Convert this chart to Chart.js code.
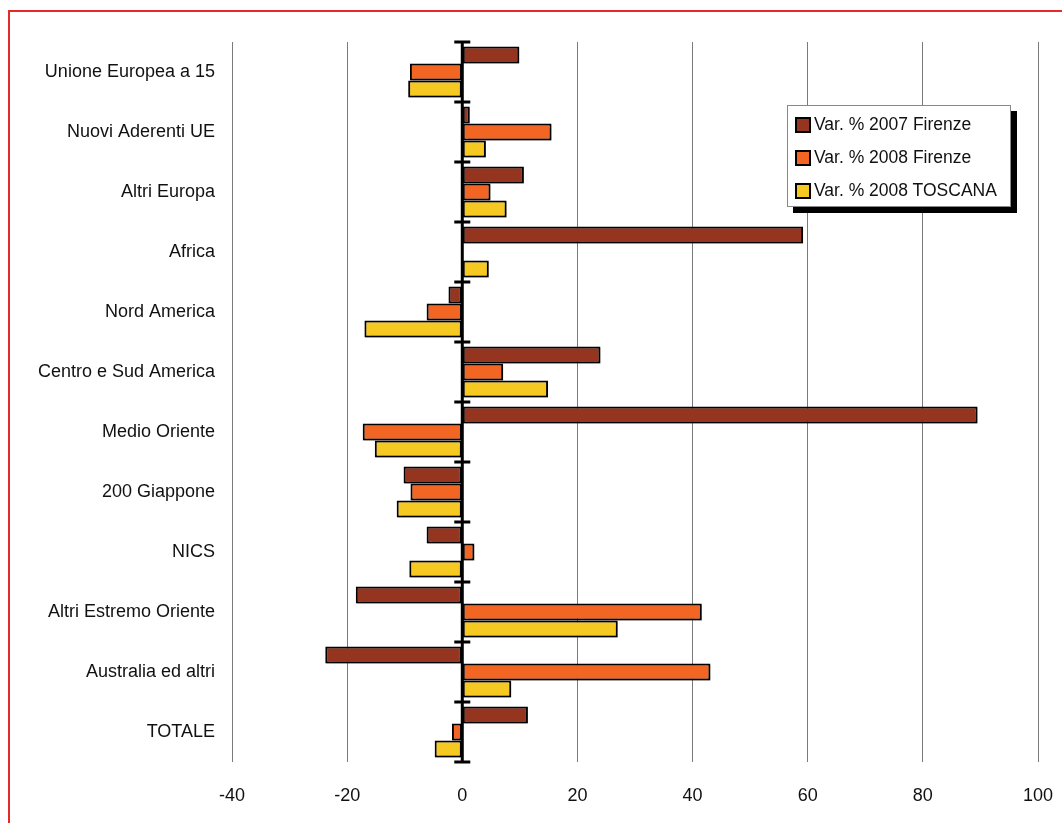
<!DOCTYPE html>
<html>
<head>
<meta charset="utf-8">
<script src="https://cdn.jsdelivr.net/npm/chart.js@4/dist/chart.umd.min.js"></script>
<style>
    html, body { margin: 0; padding: 0; background: #fff; overflow: hidden; }
    #wrap { position: relative; width: 1062px; height: 823px; overflow: hidden; }
    #frame { position: absolute; left: 8px; top: 10px; width: 1100px; height: 900px;
             border: 2px solid #e52a2a; box-sizing: border-box; pointer-events: none; }
    #legend { position: absolute; left: 787px; top: 105px; width: 224px; height: 102px;
              box-sizing: border-box; border: 1px solid #888; background: #fff;
              box-shadow: 6px 6px 0 #000; padding-top: 2px;
              font-family: 'Liberation Sans', Arial, sans-serif; font-size: 17.5px; color: #111; }
    .item { height: 33px; display: flex; align-items: center; padding-left: 7px; }
    .swatch { width: 12px; height: 12px; border: 2px solid #000; margin-right: 3px; }
</style>
</head>
<body>
<div id="wrap">
    <canvas id="chart" width="1062" height="823"></canvas>
    <div id="legend"></div>
    <div id="frame"></div>
</div>
<script>
// Data
const categories = [
    'Unione Europea a 15', 'Nuovi Aderenti UE', 'Altri Europa', 'Africa',
    'Nord America', 'Centro e Sud America', 'Medio Oriente', '200 Giappone',
    'NICS', 'Altri Estremo Oriente', 'Australia ed altri', 'TOTALE'
];
const seriesNames = ['Var. % 2007 Firenze', 'Var. % 2008 Firenze', 'Var. % 2008 TOSCANA'];
const var2007Firenze = [9.9, 1.3, 10.7, 59.2, -2.4, 24.0, 89.5, -10.2, -6.2, -18.5, -23.8, 11.4];
const var2008Firenze = [-9.1, 15.5, 4.9, null, -6.2, 7.1, -17.3, -9.0, 2.1, 41.6, 43.1, -1.8];
const var2008Toscana = [-9.4, 4.1, 7.7, 4.6, -17.0, 14.9, -15.2, -11.4, -9.2, 27.0, 8.5, -4.8];
const xMin = -40, xMax = 100, xStep = 20;

const colors = ['#96351f', '#f26522', '#f5c822'];

Chart.defaults.font.family = "'Liberation Sans', Arial, sans-serif";
Chart.defaults.font.size = 18;
Chart.defaults.color = '#111';

// black zero line with small ticks at every category boundary
const zeroTicks = {
    id: 'zeroTicks',
    afterDatasetsDraw(chart) {
        const { ctx, scales: { x, y } } = chart;
        const x0 = x.getPixelForValue(0);
        const half = (y.getPixelForValue(1) - y.getPixelForValue(0)) / 2;
        ctx.save();
        ctx.strokeStyle = '#000';
        ctx.lineWidth = 3;
        ctx.beginPath();
        ctx.moveTo(x0, chart.chartArea.top);
        ctx.lineTo(x0, chart.chartArea.bottom);
        ctx.stroke();
        for (let i = 0; i <= categories.length; i++) {
            const yy = y.getPixelForValue(i) - half;
            ctx.beginPath();
            ctx.moveTo(x0 - 8, yy);
            ctx.lineTo(x0 + 8, yy);
            ctx.stroke();
        }
        ctx.restore();
    }
};

const barShadow = {
    id: 'barShadow',
    beforeDatasetsDraw(chart) {
        chart.ctx.save();
        chart.ctx.shadowColor = 'rgba(0,0,0,0.35)';
        chart.ctx.shadowOffsetX = 1;
        chart.ctx.shadowOffsetY = 1;
        chart.ctx.shadowBlur = 1;
    },
    afterDatasetsDraw(chart) {
        chart.ctx.restore();
    }
};

const seriesData = [var2007Firenze, var2008Firenze, var2008Toscana];

const chart = new Chart(document.getElementById('chart'), {
    type: 'bar',
    data: {
        labels: categories,
        datasets: seriesData.map((d, i) => ({
            label: seriesNames[i],
            data: d,
            backgroundColor: colors[i],
            borderColor: '#000',
            borderWidth: 2,
            borderSkipped: false,
            categoryPercentage: 0.85,
            barPercentage: 1.0
        }))
    },
    options: {
        indexAxis: 'y',
        responsive: false,
        animation: false,
        layout: { padding: { top: 42, right: 24, left: 0, bottom: 0 } },
        plugins: {
            legend: { display: false },
            tooltip: { enabled: false }
        },
        scales: {
            x: {
                min: xMin,
                max: xMax,
                ticks: { stepSize: xStep, padding: 23, color: '#111' },
                grid: {
                    color: ctx => ctx.tick && ctx.tick.value === 0 ? 'rgba(0,0,0,0)' : '#7a7a7a',
                    lineWidth: 1,
                    drawTicks: false
                },
                border: { display: false },
                afterFit(scale) {
                    scale.height = 61;
                    scale.paddingLeft = 0;
                    scale.paddingRight = 0;
                }
            },
            y: {
                ticks: { padding: 17, color: '#111' },
                grid: { display: false, drawTicks: false },
                border: { display: false },
                afterFit(scale) {
                    scale.width = 232;
                    scale.paddingTop = 0;
                    scale.paddingBottom = 0;
                }
            }
        }
    },
    plugins: [barShadow, zeroTicks]
});

// HTML legend built from the same series
const legendEl = document.getElementById('legend');
seriesNames.forEach((name, i) => {
    const row = document.createElement('div');
    row.className = 'item';
    row.innerHTML = `<span class="swatch" style="background:${colors[i]}"></span><span>${name}</span>`;
    legendEl.appendChild(row);
});
</script>
</body>
</html>
